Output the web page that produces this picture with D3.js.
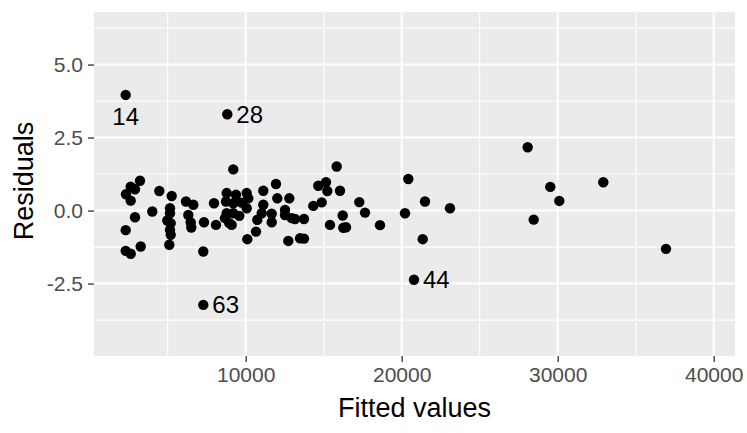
<!DOCTYPE html>
<html>
<head>
<meta charset="utf-8">
<script src="https://cdn.jsdelivr.net/npm/d3@7"></script>
<style>
  body { margin: 0; background: #fff; }
  text { font-family: "Liberation Sans", Arial, Helvetica, sans-serif; }
</style>
</head>
<body>
<script>
// fitted values and residuals
var fitted = [2308, 3225, 2628, 2904, 2327, 2628, 4462, 5257, 4013, 2904,
	2308, 5148, 5148, 4975, 5192, 5148, 5192, 5103, 2308, 2628,
	3270, 6173, 6641, 6321, 6475, 6513, 7327, 7282, 7282, 7968,
	8096, 8821, 9205, 8782, 9378, 10064, 8737, 9205, 9744, 10167,
	10064, 8782, 9205, 9590, 8673, 8949, 9103, 11128, 11942, 12026,
	12795, 11128, 11026, 11667, 10744, 11667, 10660, 10103, 12519, 12519,
	12949, 13160, 13737, 12731, 13481, 13737, 14333, 14872, 14654, 15147,
	15231, 15404, 15833, 16045, 17282, 17647, 16218, 16256, 16429, 18609,
	20423, 20211, 21493, 21346, 23096, 20788, 28076, 28461, 29525, 30102,
	32923, 36942];
var resid = [3.96, 1.02, 0.82, 0.73, 0.56, 0.34, 0.67, 0.50, -0.03, -0.23,
	-0.67, 0.08, -0.09, -0.34, -0.43, -0.66, -0.83, -1.17, -1.38, -1.48,
	-1.23, 0.31, 0.20, -0.15, -0.41, -0.58, -0.40, -1.40, -3.23, 0.25,
	-0.49, 3.30, 1.41, 0.60, 0.54, 0.60, 0.31, 0.25, 0.27, 0.42,
	0.08, -0.09, -0.09, -0.18, -0.26, -0.43, -0.49, 0.68, 0.91, 0.42,
	0.42, 0.20, -0.09, -0.11, -0.32, -0.40, -0.72, -0.98, 0.02, -0.15,
	-0.26, -0.29, -0.29, -1.04, -0.95, -0.96, 0.16, 0.28, 0.85, 0.97,
	0.67, -0.49, 1.51, 0.68, 0.29, -0.07, -0.17, -0.59, -0.57, -0.50,
	1.08, -0.09, 0.31, -0.98, 0.08, -2.37, 2.17, -0.31, 0.81, 0.33,
	0.97, -1.31];
// observation numbers shown on the plot, with the index of the point they mark
var labelIds = ["14", "28", "63", "44"];
var labelIdx = [0, 31, 28, 85];

var xDomain = [276, 41365];
var yDomain = [-4.98, 6.80];
var xMajor = [10000, 20000, 30000, 40000];
var xMinor = [5000, 15000, 25000, 35000];
var yMajor = [-2.5, 0, 2.5, 5];
var yMinor = [-3.75, -1.25, 1.25, 3.75, 6.25];

var width = 747, height = 433;
var margin = {top: 12, right: 12, bottom: 77, left: 94};
var w = width - margin.left - margin.right,
	h = height - margin.top - margin.bottom;

var svg = d3.select("body").append("svg")
	.attr("width", width)
	.attr("height", height);

var g = svg.append("g")
	.attr("transform", "translate(" + margin.left + "," + margin.top + ")");

var x = d3.scaleLinear().domain(xDomain).range([0, w]);
var y = d3.scaleLinear().domain(yDomain).range([h, 0]);

g.append("rect")
	.attr("width", w)
	.attr("height", h)
	.style("fill", "#EBEBEB");

/*
Grid lines, minor first then major on top
*/
function grid(vals, vertical, sw){
	g.selectAll(null)
		.data(vals)
		.enter()
		.append("line")
		.attr("x1", function(d){return vertical ? x(d) : 0;})
		.attr("x2", function(d){return vertical ? x(d) : w;})
		.attr("y1", function(d){return vertical ? 0 : y(d);})
		.attr("y2", function(d){return vertical ? h : y(d);})
		.style("stroke", "white")
		.style("stroke-width", sw);
}
grid(xMinor, true, 1.1);
grid(yMinor, false, 1.1);
grid(xMajor, true, 2);
grid(yMajor, false, 2);

var xAxis = g.append("g")
	.attr("transform", "translate(0," + h + ")")
	.call(d3.axisBottom(x).tickValues(xMajor).tickSize(6).tickPadding(5).tickFormat(d3.format("d")));
var yAxis = g.append("g")
	.call(d3.axisLeft(y).tickValues(yMajor).tickSize(6).tickPadding(5).tickFormat(function(d){return d.toFixed(1);}));

[xAxis, yAxis].forEach(function(a){
	a.select(".domain").remove();
	a.selectAll(".tick line").style("stroke", "#333333").style("stroke-width", 1.3);
	a.selectAll(".tick text")
		.style("fill", "#4D4D4D")
		.style("font-size", "21px")
		.style("font-family", "'Liberation Sans', Arial, sans-serif");
});

var pts = d3.range(fitted.length);
g.selectAll("circle")
	.data(pts)
	.enter()
	.append("circle")
	.attr("cx", function(i){return x(fitted[i]);})
	.attr("cy", function(i){return y(resid[i]);})
	.attr("r", 5.2)
	.style("fill", "black");

// first label sits under its point, the rest to the right
g.selectAll(".lab")
	.data(labelIds)
	.enter()
	.append("text")
	.attr("class", "lab")
	.text(function(d){return d;})
	.attr("x", function(d, j){return x(fitted[labelIdx[j]]) + (j == 0 ? 0 : 9);})
	.attr("y", function(d, j){return y(resid[labelIdx[j]]) + (j == 0 ? 22 : 0);})
	.attr("dy", "0.35em")
	.attr("text-anchor", function(d, j){return j == 0 ? "middle" : "start";})
	.style("font-size", "24px")
	.style("fill", "black");

svg.append("text")
	.text("Fitted values")
	.attr("x", margin.left + w / 2)
	.attr("y", 417)
	.attr("text-anchor", "middle")
	.style("font-size", "27px")
	.style("fill", "black");

svg.append("text")
	.text("Residuals")
	.attr("transform", "translate(33," + (margin.top + h / 2 - 3) + ") rotate(-90)")
	.attr("text-anchor", "middle")
	.style("font-size", "27px")
	.style("fill", "black");
</script>
</body>
</html>
